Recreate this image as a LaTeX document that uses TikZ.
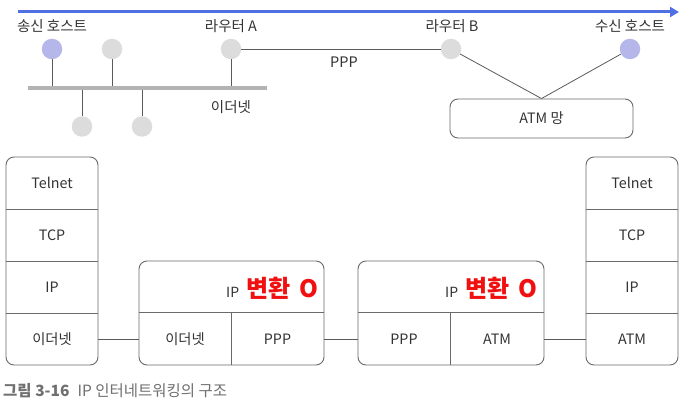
\documentclass[tikz,border=0pt]{standalone}
\usepackage{fontspec}
\setmainfont{Noto Sans CJK KR}
\usetikzlibrary{arrows.meta}
\definecolor{txt}{HTML}{333333}
\definecolor{ln}{HTML}{5A5A5A}
\definecolor{bx}{HTML}{6A6A6A}
\definecolor{gc}{HTML}{DCDCDC}
\definecolor{bc}{HTML}{B5B7EA}
\definecolor{barc}{HTML}{B3B3B3}
\definecolor{arr}{HTML}{4F6FE3}
\definecolor{hot}{HTML}{F01010}
\definecolor{capc}{HTML}{707070}
\begin{document}
\begin{tikzpicture}[x=1pt,y=-1pt,
  lbl/.style={font=\fontsize{14.5}{17}\selectfont, text=txt, inner sep=0pt},
  cell/.style={minimum width=92pt, minimum height=52pt, inner sep=0pt, font=\fontsize{14.3}{16}\selectfont, text=txt},
  frame/.style={draw=bx, line width=0.9pt, rounded corners=8pt, inner sep=0pt, font=\fontsize{14.3}{16}\selectfont, text=txt},
  conn/.style={draw=ln, line width=0.8pt},
  host/.style={circle, minimum size=20.5pt, inner sep=0pt},
  conv/.style={anchor=base east, inner sep=0pt, text=txt}
]
\useasboundingbox[fill=white] (0,0) rectangle (689,404);

% blue arrow
\coordinate (as) at (18,12);
\coordinate (ae) at (679,12);
\draw[arr, line width=3pt, -{Triangle[length=9pt,width=10pt]}] (as) -- (ae);

% top labels
\node[lbl] (t1) at (52,26) {송신 호스트};
\node[lbl] (t2) at (231,26) {라우터 A};
\node[lbl] (t3) at (452,26) {라우터 B};
\node[lbl] (t4) at (630,26) {수신 호스트};

% hosts
\node[host, fill=bc] (h1) at (52,49) {};
\node[host, fill=gc] (h2) at (112,49) {};
\node[host, fill=gc] (ra) at (231,49) {};
\node[host, fill=gc] (rb) at (451,49) {};
\node[host, fill=bc] (hr) at (630,49) {};
\node[host, fill=gc] (h3) at (82,126.5) {};
\node[host, fill=gc] (h4) at (142,126.5) {};

% ethernet bar
\coordinate (bl) at (28,88.5);
\coordinate (br) at (267,88.5);
\draw[conn] (h1.south) -- (h1.south |- bl);
\draw[conn] (h2.south) -- (h2.south |- bl);
\draw[conn] (ra.south) -- (ra.south |- bl);
\draw[conn] (h3.north |- bl) -- (h3.north);
\draw[conn] (h4.north |- bl) -- (h4.north);
\draw[barc, line width=4pt] (bl) -- (br);
\node[lbl] (eth) at (231,107) {이더넷};

% PPP link
\draw[conn] (ra.east) -- (rb.west);
\node[lbl] (ppp) at (344,62) {PPP};

% ATM network
\node[frame, minimum width=183pt, minimum height=39pt] (atm) at (541.5,118.5) {ATM 망};
\draw[conn] (rb) -- (atm.north);
\draw[conn] (hr) -- (atm.north);

% left stack
\node[frame, minimum width=92pt, minimum height=208pt] (L) at (52,261) {};
\node[cell] (Lt) at (52,183) {Telnet};
\node[cell] (Lc) at (52,235) {TCP};
\node[cell] (Li) at (52,287) {IP};
\node[cell] (Le) at (52,339) {이더넷};
\draw[bx, line width=0.9pt] (L.west |- Lt.south) -- (L.east |- Lt.south);
\draw[bx, line width=0.9pt] (L.west |- Lc.south) -- (L.east |- Lc.south);
\draw[bx, line width=0.9pt] (L.west |- Li.south) -- (L.east |- Li.south);

% router A box
\node[frame, minimum width=185pt, minimum height=104pt] (M1) at (231.5,313) {};
\node[cell] (M1a) at (185,339) {이더넷};
\node[cell, minimum width=93pt] (M1b) at (277.5,339) {PPP};
\draw[bx, line width=0.9pt] (M1.west |- M1a.north) -- (M1.east |- M1a.north);
\draw[bx, line width=0.9pt] (M1a.north east) -- (M1a.south east);
\node[conv] (M1t) at (319,297) {{\fontsize{14}{16}\selectfont IP}\hspace{7pt}{\color{hot}\bfseries\fontsize{24}{28}\selectfont 변환\hspace{0.4em}O}};

% router B box
\node[frame, minimum width=186pt, minimum height=104pt] (M2) at (451,313) {};
\node[cell] (M2a) at (404,339) {PPP};
\node[cell, minimum width=94pt] (M2b) at (497,339) {ATM};
\draw[bx, line width=0.9pt] (M2.west |- M2a.north) -- (M2.east |- M2a.north);
\draw[bx, line width=0.9pt] (M2a.north east) -- (M2a.south east);
\node[conv] (M2t) at (538,297) {{\fontsize{14}{16}\selectfont IP}\hspace{7pt}{\color{hot}\bfseries\fontsize{24}{28}\selectfont 변환\hspace{0.4em}O}};

% right stack
\node[frame, minimum width=92pt, minimum height=208pt] (R) at (632,261) {};
\node[cell] (Rt) at (632,183) {Telnet};
\node[cell] (Rc) at (632,235) {TCP};
\node[cell] (Ri) at (632,287) {IP};
\node[cell] (Re) at (632,339) {ATM};
\draw[bx, line width=0.9pt] (R.west |- Rt.south) -- (R.east |- Rt.south);
\draw[bx, line width=0.9pt] (R.west |- Rc.south) -- (R.east |- Rc.south);
\draw[bx, line width=0.9pt] (R.west |- Ri.south) -- (R.east |- Ri.south);

% connectors between stacks
\draw[conn] (Le.east) -- (M1a.west);
\draw[conn] (M1b.east) -- (M2a.west);
\draw[conn] (M2b.east) -- (Re.west);

% caption
\node[anchor=base west, inner sep=0pt, text=capc, font=\fontsize{15.5}{18}\selectfont] (cap) at (3,396) {\textbf{그림 3-16}\hspace{8pt}IP 인터네트워킹의 구조};
\end{tikzpicture}
\end{document}
